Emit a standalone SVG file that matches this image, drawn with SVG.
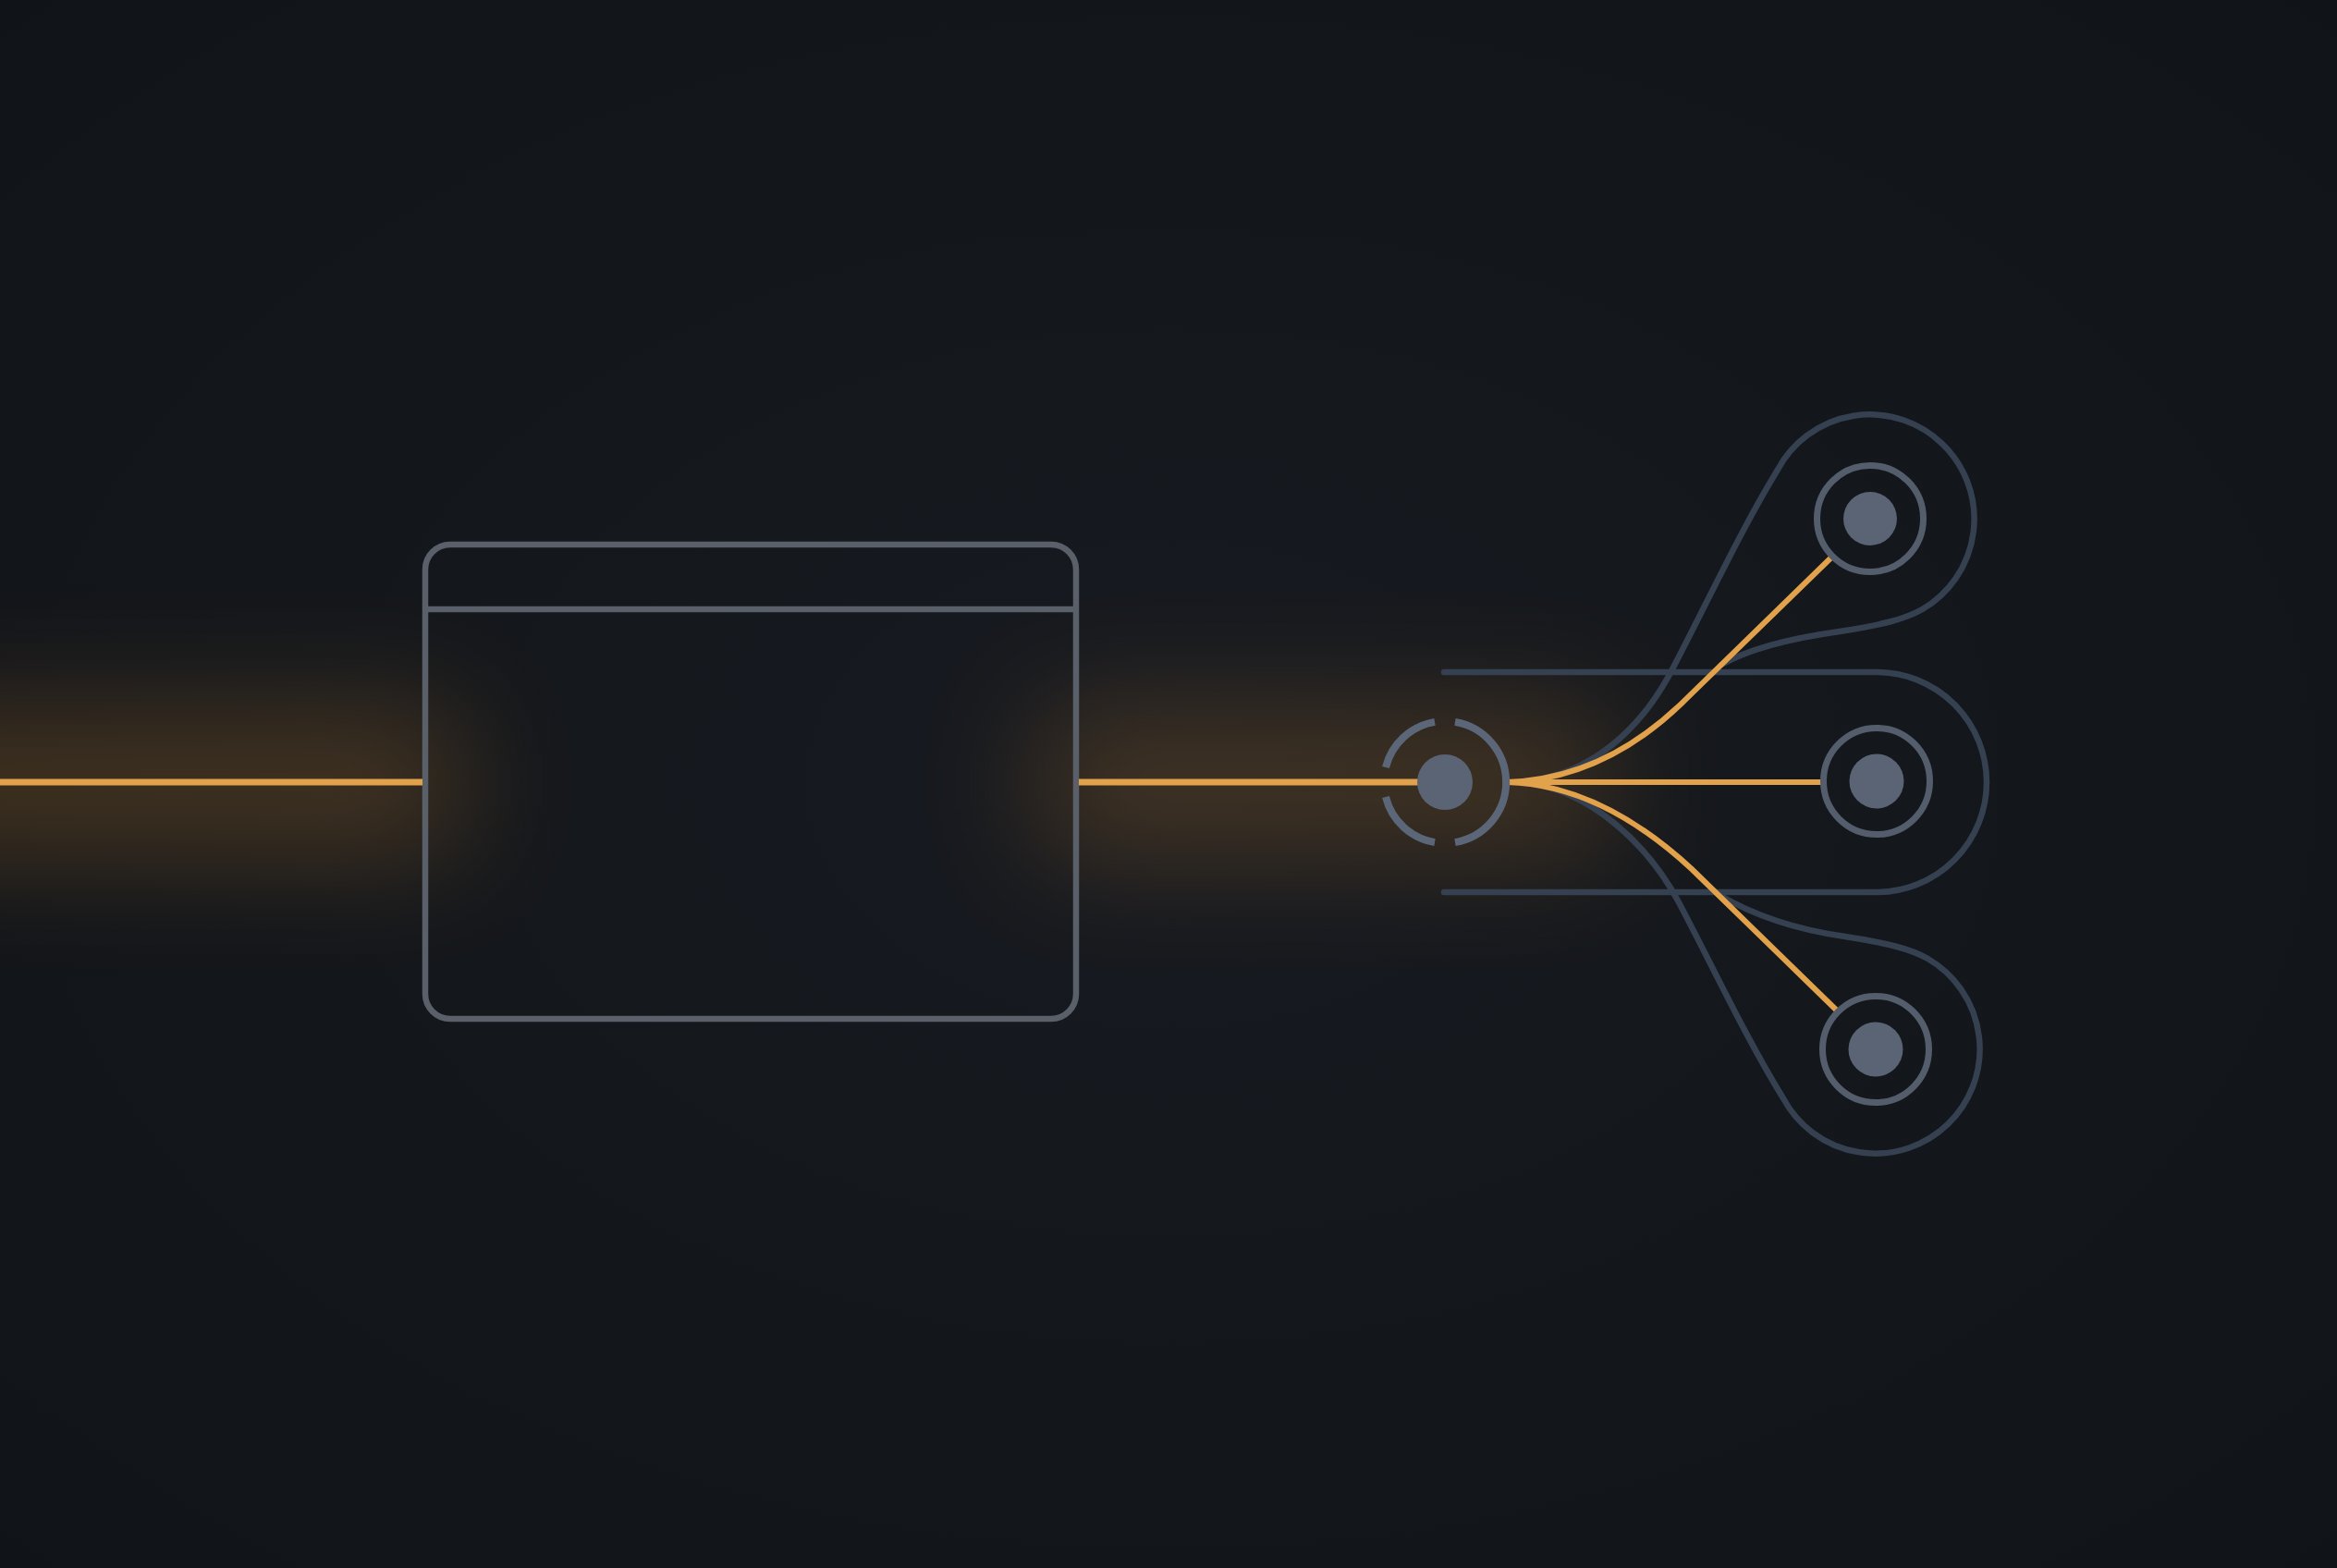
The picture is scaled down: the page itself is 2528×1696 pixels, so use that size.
<svg xmlns="http://www.w3.org/2000/svg" width="2528" height="1696" viewBox="0 0 2528 1696">
  <defs>
    <radialGradient id="bg" cx="50%" cy="50%" r="75%">
      <stop offset="0" stop-color="#171a20"/>
      <stop offset="1" stop-color="#101317"/>
    </radialGradient>
    <filter id="blur" x="-50%" y="-200%" width="200%" height="500%">
      <feGaussianBlur stdDeviation="65"/>
    </filter>
    <style>
      .flow { fill: none; stroke: #E2A24C; stroke-width: 7; stroke-linecap: butt; }
      .branch { fill: none; stroke: #E2A24C; stroke-width: 6; stroke-linecap: round; }
      .frame { fill: none; stroke: #5a6069; stroke-width: 6.5; }
      .hubring { fill: none; stroke: #5b6779; stroke-width: 8; stroke-linecap: butt; }
      .dot { fill: #5a6474; }
      .ring { fill: none; stroke: #535d6b; stroke-width: 7; }
      .bubble { fill: none; stroke: #354150; stroke-width: 6.5; stroke-linecap: round; }
      .glow { fill: #D08A30; filter: url(#blur); }
    </style>
  </defs>

  <rect width="2528" height="1696" fill="url(#bg)"/>

  <g id="glow">
    <rect class="glow" x="-200" y="766" width="700" height="160" opacity="0.26"/>
    <rect class="glow" x="1120" y="766" width="620" height="160" opacity="0.24"/>
  </g>

  <g id="node-source">
    <rect class="frame" x="460" y="589" width="704" height="513" rx="27" ry="27"/>
    <line class="frame" x1="460" y1="659" x2="1164" y2="659"/>
  </g>

  <g id="node-target-2-boundary">
    <path class="bubble" d="M1562,727 L2030,727 A119,119 0 0,1 2030,965 L1562,965"/>
  </g>
  <g id="node-target-1-boundary">
    <path class="bubble" d="M1650,845 C1720,838 1775,790 1810,722 C1850,645 1885,570 1923,508 A113,113 0 1,1 2079.5,659 C2060,670 2035,676 1990,683 C1940,690 1895,700 1862,719"/>
  </g>
  <g id="node-target-3-boundary">
    <path class="bubble" d="M1650,847 C1720,854 1783,914 1816,976 C1855,1050 1890,1125 1929,1188 A113,113 0 1,0 2085.5,1037 C2066,1026 2041,1020 1996,1013 C1946,1006 1900,992 1858,967"/>
  </g>

  <g id="connectors">
    <line class="flow" x1="0" y1="846" x2="457" y2="846"/>
    <line class="flow" x1="1167" y1="846" x2="1540" y2="846"/>
    <path class="branch" d="M1630,846 C1700,844 1765,815 1825,755 L1982,602"/>
    <path class="branch" d="M1630,846 L1970,846"/>
    <path class="branch" d="M1630,846 C1700,848 1765,880 1830,940 L1988,1094"/>
  </g>

  <g id="node-hub">
    <path class="hubring" d="M1499,830 A66,66 0 0,1 1552,780.9"/>
    <path class="hubring" d="M1574,780.9 A66,66 0 0,1 1574,911.1"/>
    <path class="hubring" d="M1552,911.1 A66,66 0 0,1 1499,862"/>
    <circle class="dot" cx="1563" cy="846" r="30"/>
  </g>

  <g id="node-target-1">
    <circle class="ring" cx="2023" cy="561" r="57.5"/>
    <circle class="dot" cx="2023" cy="561" r="29"/>
  </g>
  <g id="node-target-2">
    <circle class="ring" cx="2030" cy="845" r="57.5"/>
    <circle class="dot" cx="2030" cy="845" r="29.5"/>
  </g>
  <g id="node-target-3">
    <circle class="ring" cx="2029" cy="1135" r="57.5"/>
    <circle class="dot" cx="2029" cy="1135" r="29.5"/>
  </g>
</svg>
